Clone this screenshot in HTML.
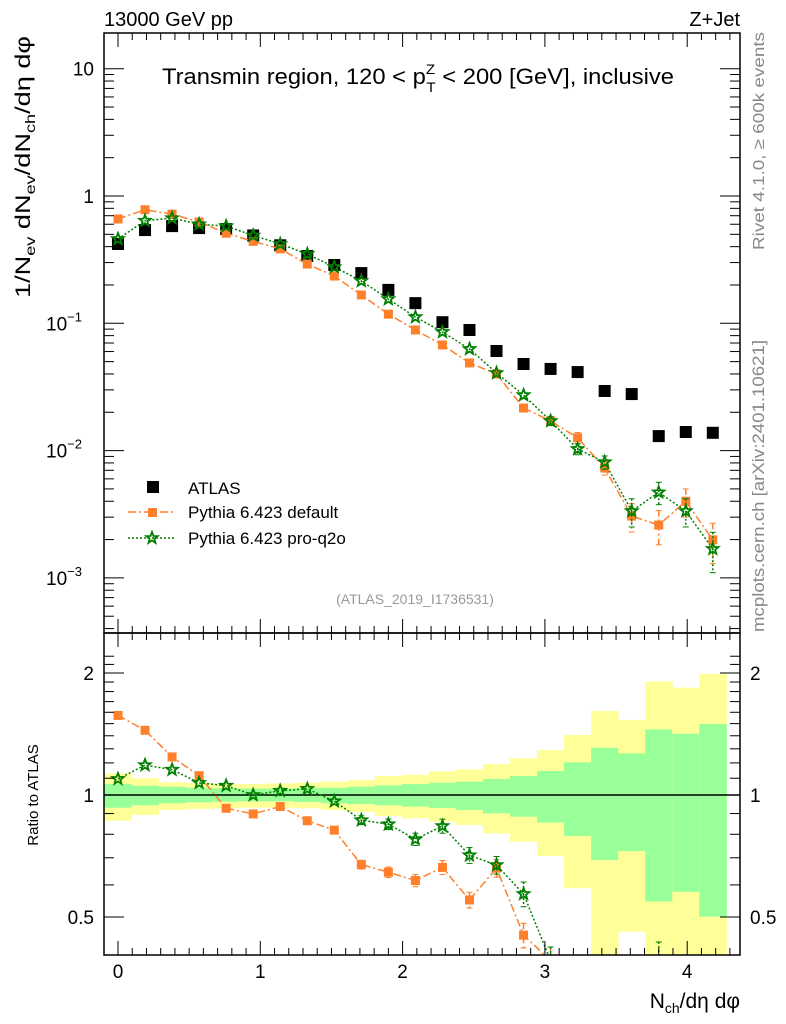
<!DOCTYPE html>
<html><head><meta charset="utf-8">
<style>
html,body{margin:0;background:#fff;overflow:hidden;width:786px;height:1024px;}
svg{display:block;font-family:"Liberation Sans",sans-serif;}
</style></head>
<body>
<svg id="chart" width="786" height="1024" viewBox="0 0 786 1024" xmlns="http://www.w3.org/2000/svg">
<rect width="786" height="1024" fill="#fff"/>
<g id="bands"></g>
<g id="grid"></g>
<g id="series"></g>
<g id="axes"></g>
<text x="104" y="26" font-size="20">13000 GeV pp</text>
<text x="740" y="26" font-size="20" text-anchor="end">Z+Jet</text>
<text x="418" y="84" font-size="22" text-anchor="middle" textLength="512" lengthAdjust="spacingAndGlyphs">Transmin region, 120 &lt; p<tspan font-size="14" dy="-10">Z</tspan><tspan font-size="14" dx="-8" dy="18">T</tspan><tspan dy="-8"> &lt; 200 [GeV], inclusive</tspan></text>
<text x="415" y="604" font-size="14" fill="#999" text-anchor="middle">(ATLAS_2019_I1736531)</text>
<text transform="translate(764,250) rotate(-90)" font-size="16" fill="#888" textLength="218" lengthAdjust="spacingAndGlyphs">Rivet 4.1.0, ≥ 600k events</text>
<text transform="translate(764,632) rotate(-90)" font-size="17" fill="#888" textLength="292" lengthAdjust="spacingAndGlyphs">mcplots.cern.ch [arXiv:2401.10621]</text>
<text transform="translate(30,36) rotate(-90)" font-size="21" text-anchor="end" textLength="262" lengthAdjust="spacingAndGlyphs">1/N<tspan font-size="14" dy="5">ev</tspan><tspan dy="-5"> dN</tspan><tspan font-size="14" dy="5">ev</tspan><tspan dy="-5">/dN</tspan><tspan font-size="14" dy="5">ch</tspan><tspan dy="-5">/dη dφ</tspan></text>
<text transform="translate(38,795) rotate(-90)" font-size="15" text-anchor="middle">Ratio to ATLAS</text>
<text x="740" y="1008" font-size="21" text-anchor="end">N<tspan font-size="14" dy="5">ch</tspan><tspan dy="-5">/dη dφ</tspan></text>
<g id="legend"></g>
</svg>
<script>
const xCenters=[0,0.19,0.38,0.57,0.76,0.95,1.14,1.33,1.52,1.71,1.9,2.09,2.28,2.47,2.66,2.85,3.04,3.23,3.42,3.61,3.80,3.99,4.18];
const atlasVals=[0.42,0.54,0.58,0.56,0.55,0.49,0.41,0.338,0.287,0.248,0.183,0.144,0.102,0.0886,0.0606,0.0479,0.0438,0.0414,0.0294,0.0278,0.0130,0.0140,0.0138];
const defVals=[0.66,0.78,0.72,0.625,0.51,0.44,0.384,0.292,0.235,0.167,0.118,0.0886,0.0676,0.0488,0.040,0.0216,0.0171,0.0126,0.0073,0.00306,0.0026,0.0040,0.00199];
const defErr=[0.01,0.01,0.01,0.01,0.01,0.015,0.015,0.02,0.02,0.025,0.03,0.035,0.04,0.045,0.05,0.07,0.08,0.1,0.12,0.25,0.3,0.25,0.35];
const q2oVals=[0.46,0.64,0.67,0.60,0.58,0.49,0.42,0.35,0.277,0.215,0.155,0.112,0.0855,0.0629,0.0407,0.0273,0.0171,0.0103,0.0081,0.00335,0.0047,0.00335,0.00169];
const q2oErr=[0.01,0.01,0.01,0.01,0.01,0.015,0.015,0.02,0.02,0.025,0.03,0.035,0.04,0.045,0.05,0.07,0.08,0.1,0.12,0.25,0.2,0.25,0.35];
const yellowHi=[1.13,1.10,1.075,1.07,1.064,1.064,1.068,1.072,1.079,1.089,1.114,1.122,1.144,1.157,1.192,1.232,1.291,1.406,1.612,1.532,1.907,1.840,1.990];
const yellowLo=[0.864,0.893,0.918,0.923,0.927,0.930,0.930,0.927,0.918,0.908,0.888,0.876,0.859,0.843,0.804,0.767,0.707,0.589,0.3,0.460,0.3,0.3,0.3];
const greenHi=[1.064,1.054,1.048,1.042,1.039,1.037,1.037,1.039,1.042,1.048,1.056,1.064,1.072,1.079,1.095,1.114,1.146,1.204,1.308,1.267,1.452,1.416,1.497];
const greenLo=[0.930,0.943,0.954,0.959,0.963,0.965,0.965,0.961,0.954,0.950,0.943,0.936,0.929,0.918,0.901,0.884,0.855,0.792,0.691,0.727,0.546,0.577,0.501];
const xTicks=[0,1,2,3,4];
const binW=0.19;

const NS='http://www.w3.org/2000/svg';
const L=104,R=740,T1=33,B1=633,T2=633,B2=955;
const X=v=>118+v*142.3;
const Y=v=>196-Math.log10(v)*127.3;
const YR=v=>795-Math.log2(v)*122;
function mk(tag,attrs,parent){const e=document.createElementNS(NS,tag);for(const k in attrs)e.setAttribute(k,attrs[k]);parent.appendChild(e);return e;}
const svg=document.getElementById('chart');
const gB=document.getElementById('bands'),gS=document.getElementById('series'),gA=document.getElementById('axes'),gL=document.getElementById('legend');
const defs=mk('defs',{},svg);
const c1=mk('clipPath',{id:'c1'},defs);mk('rect',{x:L,y:T1,width:R-L,height:B1-T1},c1);
const c2=mk('clipPath',{id:'c2'},defs);mk('rect',{x:L,y:T2,width:R-L,height:B2-T2},c2);
gB.setAttribute('clip-path','url(#c2)');
xCenters.forEach((x,i)=>{
  const x0=X(x-binW/2),w=X(x+binW/2)-x0;
  let r=mk('rect',{x:x0,y:YR(yellowHi[i]),width:w+0.5,height:YR(yellowLo[i])-YR(yellowHi[i]),fill:'#ffff99'},gB);
  
  
  r=mk('rect',{x:x0,y:YR(greenHi[i]),width:w+0.5,height:YR(greenLo[i])-YR(greenHi[i]),fill:'#99ff99'},gB);
  
  
});
mk('line',{x1:L,x2:R,y1:YR(1),y2:YR(1),stroke:'#000','stroke-width':1.5},gB);
function frame(t,b){mk('rect',{x:L,y:t,width:R-L,height:b-t,fill:'none',stroke:'#000','stroke-width':1.5},gA);}
frame(T1,B1);frame(T2,B2);
[[T1,B1],[T2,B2]].forEach(([t,b])=>{
  for(let v=-0.1;v<=4.35;v+=0.1){const vv=Math.round(v*10)/10;const xx=X(vv);if(xx<L||xx>R)continue;
    const major=Math.abs(vv-Math.round(vv))<1e-6;const len=major?14:7;
    mk('line',{x1:xx,x2:xx,y1:b,y2:b-len,stroke:'#000'},gA);mk('line',{x1:xx,x2:xx,y1:t,y2:t+len,stroke:'#000'},gA);}
});
xTicks.forEach(v=>{const t=mk('text',{x:X(v),y:978,'font-size':19,'text-anchor':'middle'},gA);t.textContent=v;
  
  });
for(let d=-4;d<=1;d++){for(let m=1;m<=9;m++){const v=m*Math.pow(10,d);const yy=Y(v);if(yy<T1||yy>B1)continue;
  const len=m==1?20:10;mk('line',{x1:L,x2:L+len,y1:yy,y2:yy,stroke:'#000'},gA);mk('line',{x1:R,x2:R-len,y1:yy,y2:yy,stroke:'#000'},gA);}}
const yLabs=[[10,'10'],[1,'1'],[0.1,'10','−1'],[0.01,'10','−2'],[0.001,'10','−3']];
yLabs.forEach(l=>{const t=mk('text',{x:l[2]?82:94,y:Y(l[0])+7,'font-size':19,'text-anchor':'end'},gA);
  
  
  t.textContent=l[1];if(l[2]){const s=mk('tspan',{'font-size':13,dy:-9},t);s.textContent=l[2];}});
for(let v=0.4;v<=2.3;v+=0.1){const vv=Math.round(v*10)/10;const yy=YR(vv);if(yy<T2||yy>B2)continue;
  const major=(vv==0.5||vv==1||vv==2);const len=major?20:10;
  mk('line',{x1:L,x2:L+len,y1:yy,y2:yy,stroke:'#000'},gA);mk('line',{x1:R,x2:R-len,y1:yy,y2:yy,stroke:'#000'},gA);}
[[2,'2'],[1,'1'],[0.5,'0.5']].forEach(l=>{
  let t=mk('text',{x:94,y:YR(l[0])+7,'font-size':19,'text-anchor':'end'},gA);t.textContent=l[1];
  
  
  t=mk('text',{x:750,y:YR(l[0])+7,'font-size':19},gA);t.textContent=l[1];
  
  });
function star(cx,cy,r,g,color){let p='';for(let k=0;k<10;k++){const a=-Math.PI/2+k*Math.PI/5;const rr=k%2?r*0.42:r;p+=(k?'L':'M')+(cx+rr*Math.cos(a)).toFixed(1)+' '+(cy+rr*Math.sin(a)).toFixed(1);}
  return mk('path',{d:p+'Z',fill:'none',stroke:color,'stroke-width':1.8},g);}
function drawMC(vals,errs,color,dash,kind,Yf,clip,name,ratio){
  const g=mk('g',{'clip-path':clip},gS);
  
  
  const vv=vals.map((v,i)=>ratio?v/atlasVals[i]:v);
  mk('polyline',{points:vv.map((v,i)=>X(xCenters[i])+','+Yf(v)).join(' '),fill:'none',stroke:color,'stroke-width':1.5,'stroke-dasharray':dash},g);
  vv.forEach((v,i)=>{const x=X(xCenters[i]);const e=errs[i];
    const y1=Yf(v*(1+e)),y2=Yf(Math.max(v*(1-e),1e-9));
    if(y2-y1>8){mk('line',{x1:x,x2:x,y1:y1,y2:y2,stroke:color,'stroke-width':1.5,'stroke-dasharray':kind=='sq'?'6,3,2,3':'2,2'},g);
      mk('line',{x1:x-3,x2:x+3,y1:y1,y2:y1,stroke:color},g);mk('line',{x1:x-3,x2:x+3,y1:y2,y2:y2,stroke:color},g);}
    let m;
    if(kind=='sq')m=mk('rect',{x:x-4.5,y:Yf(v)-4.5,width:9,height:9,fill:color},g);
    else m=star(x,Yf(v),6,g,color);
    
    
  });
}
const gAt=mk('g',{'clip-path':'url(#c1)'},gS);


atlasVals.forEach((v,i)=>{const m=mk('rect',{x:X(xCenters[i])-6,y:Y(v)-6,width:12,height:12,fill:'#000'},gAt);
  
  });
drawMC(defVals,defErr,'#ff7f2a','8,3,2,3','sq',Y,'url(#c1)','pythia-default',false);
drawMC(q2oVals,q2oErr,'#007f00','2,2','st',Y,'url(#c1)','pythia-pro-q2o',false);
drawMC(defVals,defErr,'#ff7f2a','8,3,2,3','sq',YR,'url(#c2)','pythia-default-ratio',true);
drawMC(q2oVals,q2oErr,'#007f00','2,2','st',YR,'url(#c2)','pythia-pro-q2o-ratio',true);
let e=mk('rect',{x:147,y:481,width:12,height:12,fill:'#000'},gL);


let t=mk('text',{x:188,y:494,'font-size':17},gL);t.textContent='ATLAS';


mk('line',{x1:128,x2:176,y1:512,y2:512,stroke:'#ff7f2a','stroke-width':1.5,'stroke-dasharray':'8,3,2,3'},gL);
mk('rect',{x:148,y:508,width:9,height:9,fill:'#ff7f2a'},gL);
t=mk('text',{x:188,y:518,'font-size':17},gL);t.textContent='Pythia 6.423 default';


mk('line',{x1:128,x2:176,y1:538,y2:538,stroke:'#007f00','stroke-width':1.5,'stroke-dasharray':'2,2'},gL);
star(152,538,6,gL,'#007f00');
t=mk('text',{x:188,y:544,'font-size':17},gL);t.textContent='Pythia 6.423 pro-q2o';


</script>
</body></html>
